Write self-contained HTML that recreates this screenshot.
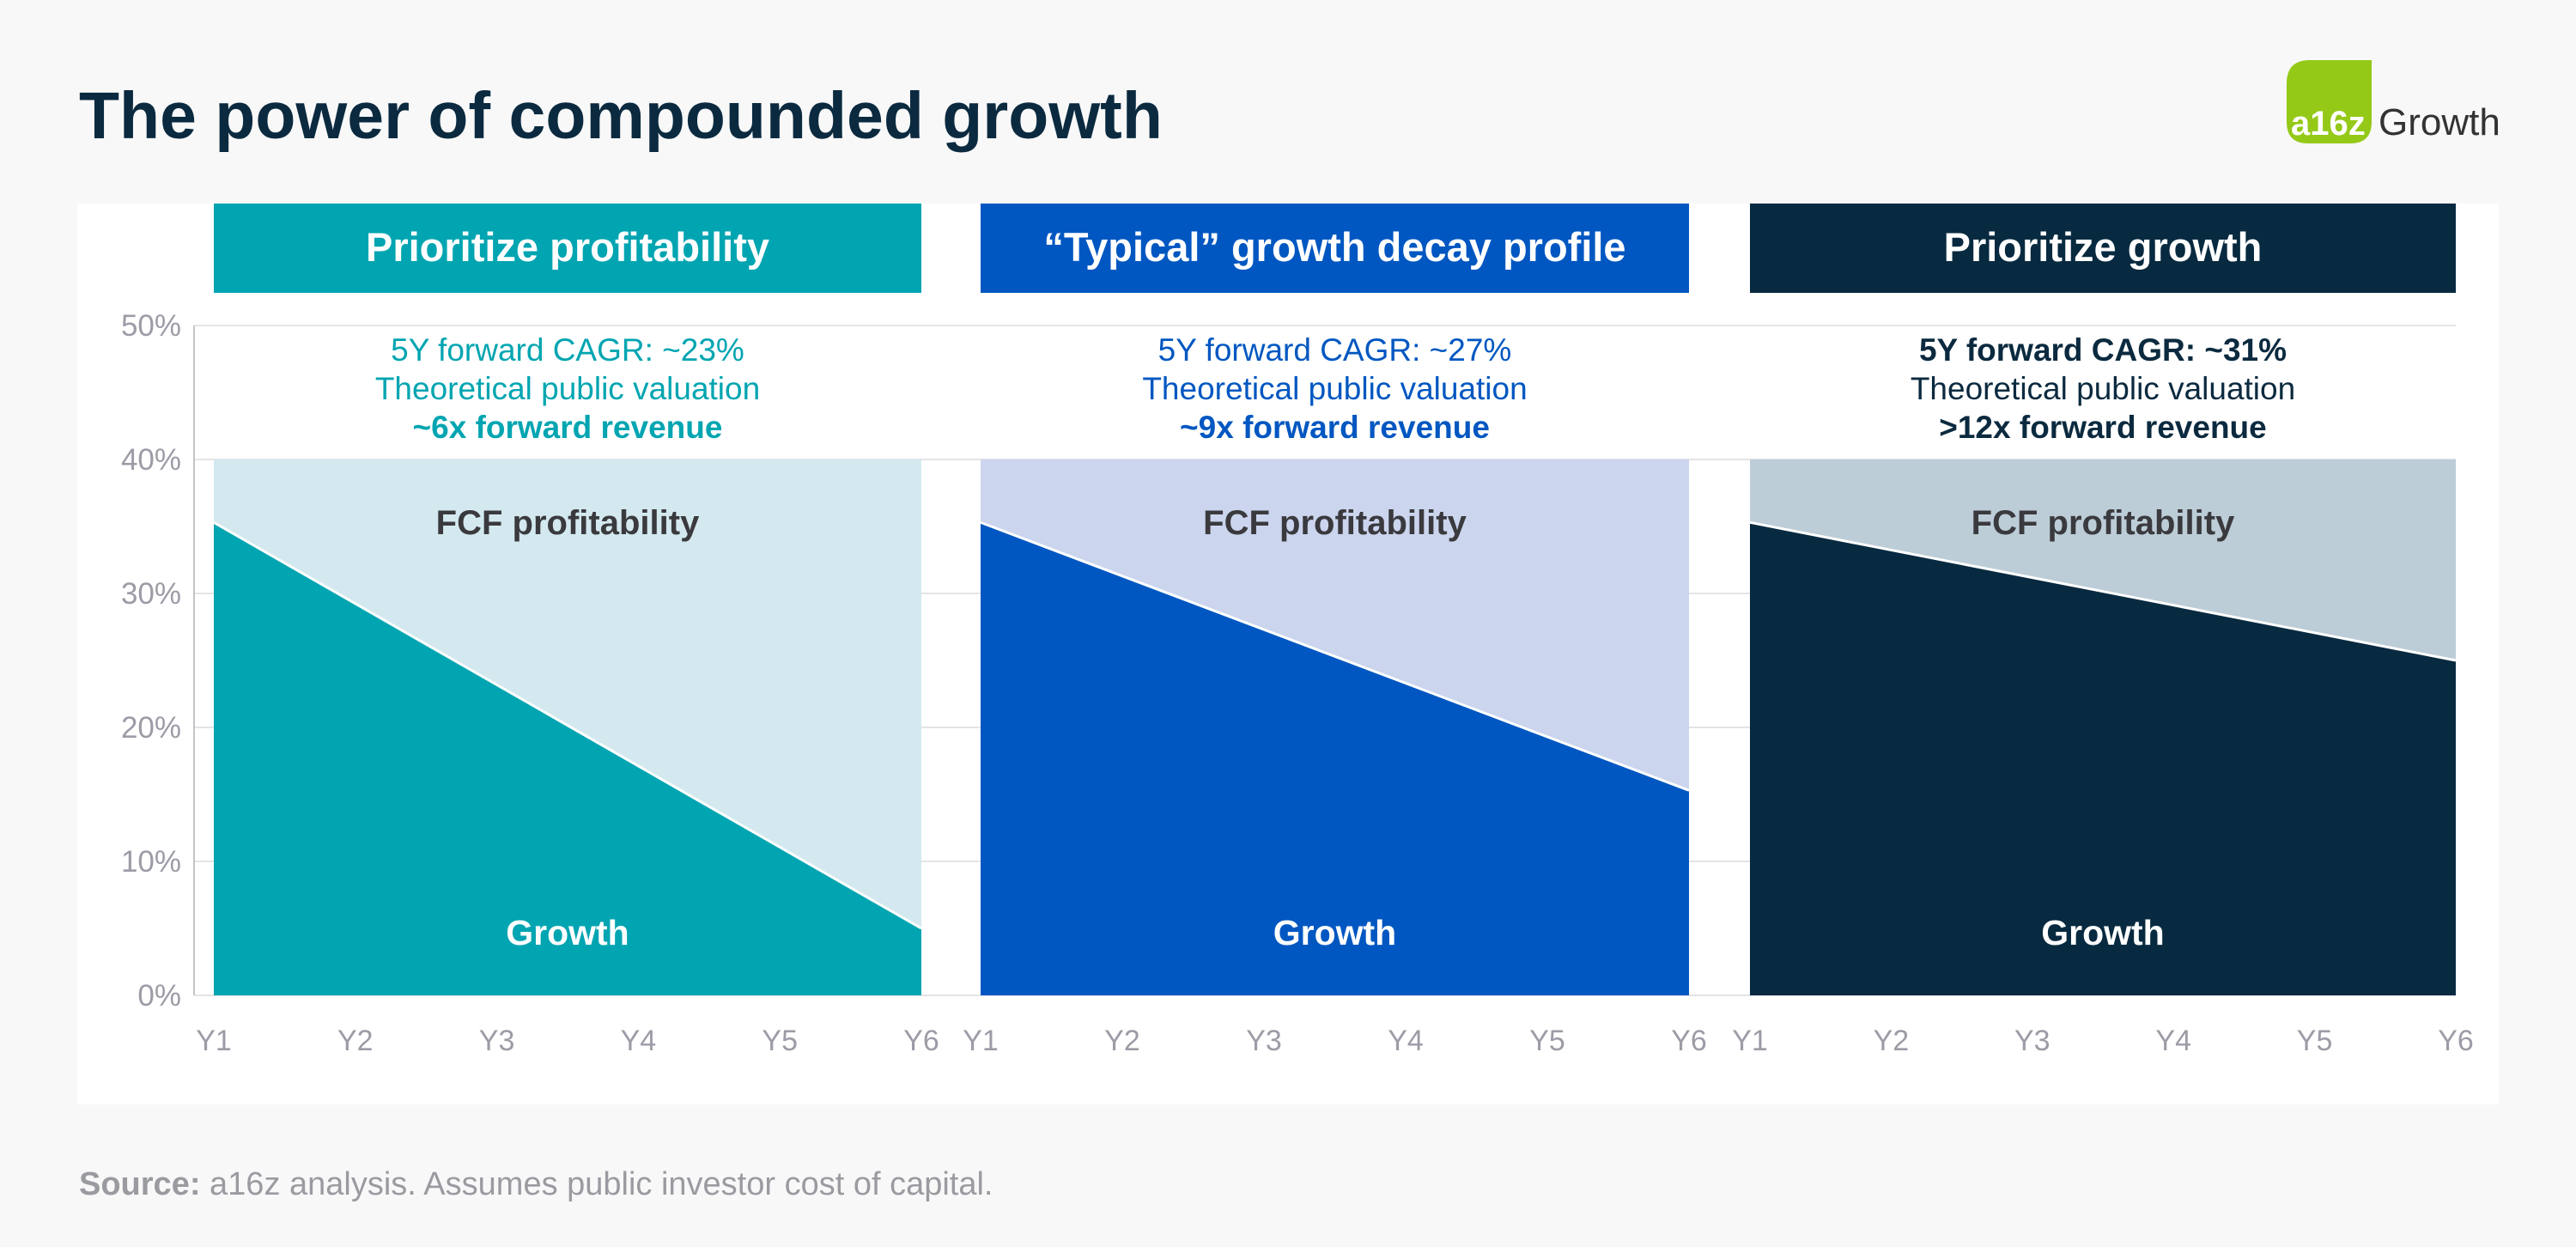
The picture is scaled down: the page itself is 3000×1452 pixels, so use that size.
<!DOCTYPE html>
<html><head><meta charset="utf-8"><style>
html,body{margin:0;padding:0;background:#f8f8f9;width:3000px;height:1452px;overflow:hidden;font-family:"Liberation Sans",sans-serif}
</style></head><body>
<svg width="3000" height="1452" xmlns="http://www.w3.org/2000/svg">
<text x="92" y="161" font-size="77" font-weight="bold" fill="#0b2a3f" font-family="Liberation Sans, sans-serif">The power of compounded growth</text>
<g>
<path d="M2690,70 L2762,70 L2762,142 Q2762,167 2737,167 L2688,167 Q2663,167 2663,142 L2663,97 Q2663,70 2690,70 Z" fill="#94c918"/>
<text x="2668" y="157" font-size="40" font-weight="bold" fill="#fff">a16z</text>
<text x="2770" y="157" font-size="44" fill="#333">Growth</text>
</g>
<rect x="90" y="237" width="2820" height="1049" fill="#ffffff"/>
<g id="plot"></g>
<text x="92" y="1391" font-size="38" fill="#9a9ba0"><tspan font-weight="bold">Source:</tspan> a16z analysis. Assumes public investor cost of capital.</text>
</svg>
<script>
const yTicks=[0,10,20,30,40,50];
const xLabels=["Y1","Y2","Y3","Y4","Y5","Y6"];
const panelTitles=["Prioritize profitability","\u201cTypical\u201d growth decay profile","Prioritize growth"];
const growthStart=[35.3,35.3,35.3];
const growthEnd=[5,15.3,25];
const totalTop=[40,40,40];
const cagr=["5Y forward CAGR: ~23%","5Y forward CAGR: ~27%","5Y forward CAGR: ~31%"];
const multiple=["~6x forward revenue","~9x forward revenue",">12x forward revenue"];
const dark=["#00a5b1","#0057c1","#082a40"];
const light=["#d3e9ef","#cbd5ee","#bccdd7"];
const textCol=["#00a5b1","#0057c1","#0b2a3f"];
const NS="http://www.w3.org/2000/svg";
const g=document.getElementById('plot');
const panelX=[[249,1073],[1142,1967],[2038,2860]];
const y=v=>1159-v*15.6;
function mk(t,a,txt){const e=document.createElementNS(NS,t);for(const k in a)e.setAttribute(k,a[k]);if(txt!==undefined)e.textContent=txt;g.appendChild(e);return e;}
yTicks.forEach(t=>{
 const l=mk('line',{x1:226,x2:2860,y1:y(t),y2:y(t),stroke:'#e4e4e7','stroke-width':2});
 
 
 const tx=mk('text',{x:211,y:y(t)+12,'font-size':35,fill:'#9b9ca6','text-anchor':'end'},t+'%');
 
 
});
const ax=mk('line',{x1:226,x2:226,y1:y(50),y2:y(0),stroke:'#c4c4c9','stroke-width':2});


panelX.forEach((p,i)=>{
 const [x0,x1]=p, cx=(x0+x1)/2;
 const xs=k=>x0+(x1-x0)*k/(xLabels.length-1);
 const h=mk('rect',{x:x0,y:237,width:x1-x0,height:104,fill:dark[i]});
 
 
 const ht=mk('text',{x:cx,y:304,'font-size':47,'font-weight':'bold',fill:'#fff','text-anchor':'middle'},panelTitles[i]);
 
 
 const fa=mk('rect',{x:x0,y:y(totalTop[i]),width:x1-x0,height:y(0)-y(totalTop[i]),fill:light[i]});
 
 
 const ga=mk('path',{d:`M${x0},${y(0)} L${x0},${y(growthStart[i])} L${x1},${y(growthEnd[i])} L${x1},${y(0)} Z`,fill:dark[i]});
 
 
 const gl=mk('line',{x1:x0,y1:y(growthStart[i]),x2:x1,y2:y(growthEnd[i]),stroke:'#fff','stroke-width':3});
 
 
 [[cagr[i],420,'normal'],['Theoretical public valuation',465,'normal'],[multiple[i],510,'bold']].forEach((a,j)=>{
  const t=mk('text',{x:cx,y:a[1],'font-size':37,'font-weight':j==2?'bold':(i==2&&j==0?'bold':'normal'),fill:textCol[i],'text-anchor':'middle'},a[0]);
  
  
 });
 const f=mk('text',{x:cx,y:622,'font-size':40,'font-weight':'bold',fill:'#3a3a3e','text-anchor':'middle'},'FCF profitability');
 
 
 const gr=mk('text',{x:cx,y:1100,'font-size':41,'font-weight':'bold',fill:'#fff','text-anchor':'middle'},'Growth');
 
 
 xLabels.forEach((lb,k)=>{
  const t=mk('text',{x:xs(k),y:1223,'font-size':34,fill:'#9b9ca6','text-anchor':'middle'},lb);
  
  
 });
});
</script>
</body></html>
